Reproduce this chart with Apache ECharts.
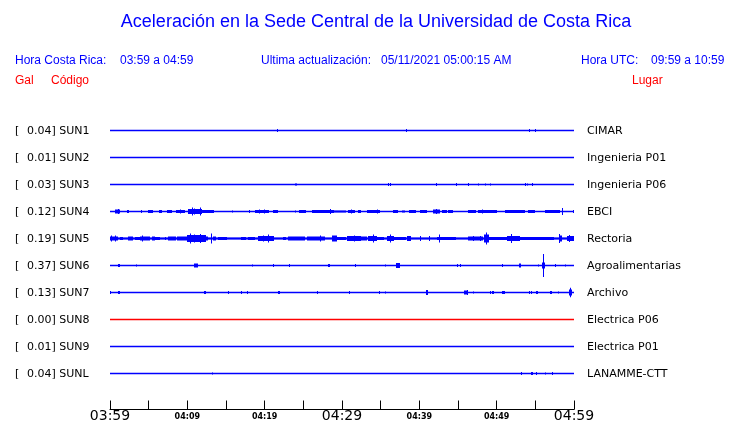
<!DOCTYPE html>
<html>
<head>
<meta charset="utf-8">
<script src="https://cdn.jsdelivr.net/npm/echarts@6/dist/echarts.min.js"></script>
<style>
html,body{margin:0;padding:0;background:#fff;}
#chart{width:740px;height:423px;}
</style>
</head>
<body>
<div id="chart"></div>
<script>
// ---- Data ----
const stationCodes = ['SUN1','SUN2','SUN3','SUN4','SUN5','SUN6','SUN7','SUN8','SUN9','SUNL'];
const stationPlaces = ['CIMAR','Ingenieria P01','Ingenieria P06','EBCI','Rectoria','Agroalimentarias','Archivo','Electrica P06','Electrica P01','LANAMME-CTT'];
const peakGal = ['0.04','0.01','0.03','0.12','0.19','0.37','0.13','0.00','0.01','0.04'];
const traceColors = ['#0000ff','#0000ff','#0000ff','#0000ff','#0000ff','#0000ff','#0000ff','#ff0000','#0000ff','#0000ff'];
const tickLabels = ['03:59','04:09','04:19','04:29','04:39','04:49','04:59'];
const tickLabelIsMajor = [true,false,false,true,false,false,true];

// events: [start minute, end minute, half amplitude (trace spacing = 27 units)]
const sun1Events = [[21.6,21.6,1.5],[38.3,38.3,1.5],[54.2,54.2,1.5],[54.9,54.9,1.5]];
const sun2Events = [];
const sun3Events = [[23.9,24.1,1],[35.9,35.9,1.5],[36.25,36.25,1.5],[42.1,42.1,1.5],[44.8,44.8,1.5],[46.3,46.3,1.5],[47.6,47.6,1],[48.5,48.5,1],[49.2,49.2,1],[53.6,53.6,1.5],[53.9,53.9,1],[54.6,54.6,1.5]];
const sun4Events = [
  [0.65,1.25,2],[1.0,1.0,2.5],[2.15,2.4,1.5],[4.05,4.05,1.5],[4.95,5.6,1.5],[6.35,6.7,1.5],[7.35,8.0,1.5],
  [8.5,9.6,1.5],[9.0,9.0,2],[10.1,11.85,2.5],[10.65,10.65,4],[11.65,11.65,4],[10.9,10.9,3],
  [11.85,12.7,1.5],[12.7,13.5,1.5],[15.8,15.8,1],[18.0,18.0,1.5],[18.75,20.5,1.5],[19.3,19.3,2],[19.9,19.9,2],
  [21.05,21.7,1.5],[23.9,23.9,1],[24.5,25.45,1.5],[26.1,26.95,1.5],[27.0,29.0,1.5],[28.5,28.5,2.5],
  [29.0,29.75,1],[29.75,30.5,1],[30.8,31.7,1.5],[31.2,31.2,2],[32.1,32.55,1.5],[33.2,34.9,1.5],[34.5,34.5,2],
  [36.65,37.3,1.5],[37.7,38.15,1],[38.6,39.45,1.5],[40.1,41.05,1.5],[41.8,42.7,2],[42.2,42.2,2.5],
  [42.9,43.55,1.5],[43.75,44.4,1.5],[46.35,47.4,1.5],[47.6,48.7,1.5],[48.1,48.1,2],[48.7,50.0,1.5],
  [51.1,53.65,1.5],[54.1,54.95,1.5],[56.25,58.2,1.5],[58.5,58.5,3.5],[59.9,60,1.5]
];
const sun5Events = [
  [0,60,1.1],[0,1.0,2],[0.15,0.15,3],[0.7,0.7,3],[1.3,1.7,1.5],[2.3,3.0,2],[3.25,3.9,1.5],[3.9,5.2,2],[4.15,4.15,3],
  [5.4,5.8,2],[5.8,6.45,1.5],[7.1,7.1,1.5],[7.55,8.6,2],[8.6,9.9,2],[9.9,12.3,3.5],[10.35,10.35,5],[11.6,11.6,4.5],
  [10.9,10.9,4],[12.3,12.7,2],[13.05,13.05,5],[13.35,13.8,2],[14.0,15.1,1.5],[17.0,17.65,1.5],[17.9,18.75,1.5],
  [19.2,21.3,2.5],[20.4,20.4,4],[19.8,19.8,3],[22.4,22.85,1.5],[23.05,25.2,2],[25.45,27.8,2],[27.2,27.2,3],
  [28.65,29.3,3],[29.3,30.4,1.5],[30.6,32.35,2.5],[31.6,31.6,3],[32.35,33.2,2],[33.4,34.5,2.5],[34.05,34.05,4],
  [34.5,35.35,1.5],[35.8,36.65,2.5],[36.2,36.2,4],[36.65,38.35,1.5],[38.35,38.9,2.5],[40.1,40.1,2.5],[41.3,41.3,2.5],
  [42.5,42.5,4],[42.25,44.65,1.5],[46.35,48.3,2],[46.9,46.9,2.5],[47.8,47.8,2.5],[48.3,48.9,4],[48.6,48.6,6],
  [48.9,51.3,1.5],[51.3,53.0,2.5],[51.9,51.9,4.5],[53.0,55.6,1.5],[55.6,57.35,1.5],[58.0,58.4,3],[58.1,58.1,4.5],
  [59.05,59.9,2.5],[59.4,59.4,3.5]
];
const sun6Events = [[1.0,1.25,1.5],[3.4,3.4,1],[10.8,11.3,2],[18.3,18.3,1],[21.1,21.1,1.5],[23.1,23.1,1.5],[28.2,28.45,1.5],[31.7,31.7,1.5],[35.5,35.5,1],[37.0,37.5,2.5],[44.9,44.9,1.5],[45.3,45.3,1.5],[50.7,50.7,1.5],[52.9,53.2,2],[55.3,55.3,1],[55.9,56.25,3],[56.05,56.05,11.5],[57.6,57.6,1.5],[58.8,58.8,1]];
const sun7Events = [[0.05,0.05,1.5],[1.0,1.25,1.5],[12.1,12.35,1.5],[15.3,15.3,1.5],[16.9,16.9,1.5],[17.7,17.7,1.5],[21.7,22.0,1.5],[26.8,26.8,1.5],[30.9,30.9,1.5],[34.8,34.8,1.5],[35.6,35.6,1],[40.8,41.05,2.5],[45.8,46.3,2],[46.1,46.1,2.5],[46.9,46.9,1],[49.1,49.1,1.5],[49.35,49.55,1.5],[50.7,51.05,1.5],[54.2,54.2,1.5],[54.5,54.5,1.5],[55.1,55.35,1.5],[56.9,57.15,1.5],[57.9,57.9,1],[59.3,59.7,3],[59.5,59.5,4.7]];
const sun8Events = [];
const sun9Events = [];
const sunLEvents = [[13.2,13.2,1],[53.2,53.2,1.5],[54.4,54.7,1.5],[55.05,55.05,1.5],[56.3,56.3,1],[57.2,57.2,1.5]];
const allEvents = [sun1Events,sun2Events,sun3Events,sun4Events,sun5Events,sun6Events,sun7Events,sun8Events,sun9Events,sunLEvents];

// ---- Build ----
const SPACING = 27;
const baseOf = i => 279 - SPACING * i;   // stacked trace offsets on a 0..306 axis
const series = [];
stationCodes.forEach((code, i) => {
  const b = baseOf(i);
  series.push({
    type: 'line', silent: true, symbol: 'none', animation: false,
    data: [[0, b], [60, b]],
    lineStyle: { color: traceColors[i], width: 1.3 }
  });
  if (allEvents[i].length) {
    series.push({
      type: 'custom', silent: true, animation: false,
      data: allEvents[i].map(e => [e[0], e[1], e[2], b]),
      renderItem: (params, api) => {
        const t0 = api.value(0), t1 = api.value(1), a = api.value(2), base = api.value(3);
        const p0 = api.coord([t0, base + a]);
        const p1 = api.coord([t1, base - a]);
        const x = Math.round(p0[0]);
        const w = Math.max(1, Math.round(p1[0] - p0[0]));
        return { type: 'rect', shape: { x: x, y: p0[1], width: w, height: p1[1] - p0[1] },
                 style: { fill: traceColors[i] } };
      }
    });
  }
});

const graphics = [];
const hdrFont = '12px "Liberation Sans", Arial, sans-serif';
const lblFont = '11px "DejaVu Sans", sans-serif';
function txt(x, y, s, font, color, align) {
  graphics.push({ type: 'text', x: x, y: y, silent: true,
    style: { text: s, font: font, fill: color, textAlign: align || 'left', textVerticalAlign: 'middle' } });
}
txt(376, 22, 'Aceleración en la Sede Central de la Universidad de Costa Rica', '18px "Liberation Sans", Arial, sans-serif', '#0000ff', 'center');
txt(15, 61, 'Hora Costa Rica:', hdrFont, '#0000ff');
txt(120, 61, '03:59 a 04:59', hdrFont, '#0000ff');
txt(261, 61, 'Ultima actualización:', hdrFont, '#0000ff');
txt(381, 61, '05/11/2021 05:00:15 AM', hdrFont, '#0000ff');
txt(581, 61, 'Hora UTC:', hdrFont, '#0000ff');
txt(651, 61, '09:59 a 10:59', hdrFont, '#0000ff');
txt(15, 81, 'Gal', hdrFont, '#ff0000');
txt(51, 81, 'Código', hdrFont, '#ff0000');
txt(632, 81, 'Lugar', hdrFont, '#ff0000');
stationCodes.forEach((code, i) => {
  const y = 131 + SPACING * i;
  txt(15, y, '[', lblFont, '#000');
  txt(27, y, peakGal[i] + '] ' + code, lblFont, '#000');
  txt(587, y, stationPlaces[i], lblFont, '#000');
});

const chart = echarts.init(document.getElementById('chart'), null, { renderer: 'canvas' });
chart.setOption({
  animation: false,
  backgroundColor: '#fff',
  grid: { left: 110, right: 166, top: 103.5, bottom: 13.5, containLabel: false, outerBoundsMode: 'none' },
  xAxis: {
    type: 'value', min: 0, max: 60, interval: 5,
    axisLine: { show: true, onZero: false, lineStyle: { color: '#000', width: 1 } },
    axisTick: { show: true, inside: true, length: 9, lineStyle: { color: '#000', width: 1 } },
    splitLine: { show: false },
    axisLabel: {
      show: true, margin: 1, showMinLabel: true, showMaxLabel: true, color: '#000',
      formatter: v => {
        if (v % 10 !== 0) return '';
        const k = v / 10;
        return tickLabelIsMajor[k] ? '{big|' + tickLabels[k] + '}' : '{small|' + tickLabels[k] + '}';
      },
      rich: {
        big: { fontFamily: 'DejaVu Sans', fontSize: 14, color: '#000', lineHeight: 12 },
        small: { fontFamily: 'DejaVu Sans', fontSize: 8, fontWeight: 'bold', color: '#000', lineHeight: 12 }
      }
    }
  },
  yAxis: { type: 'value', min: 0, max: 306, interval: 27, show: false },
  series: series,
  graphic: graphics
});
</script>
</body>
</html>
